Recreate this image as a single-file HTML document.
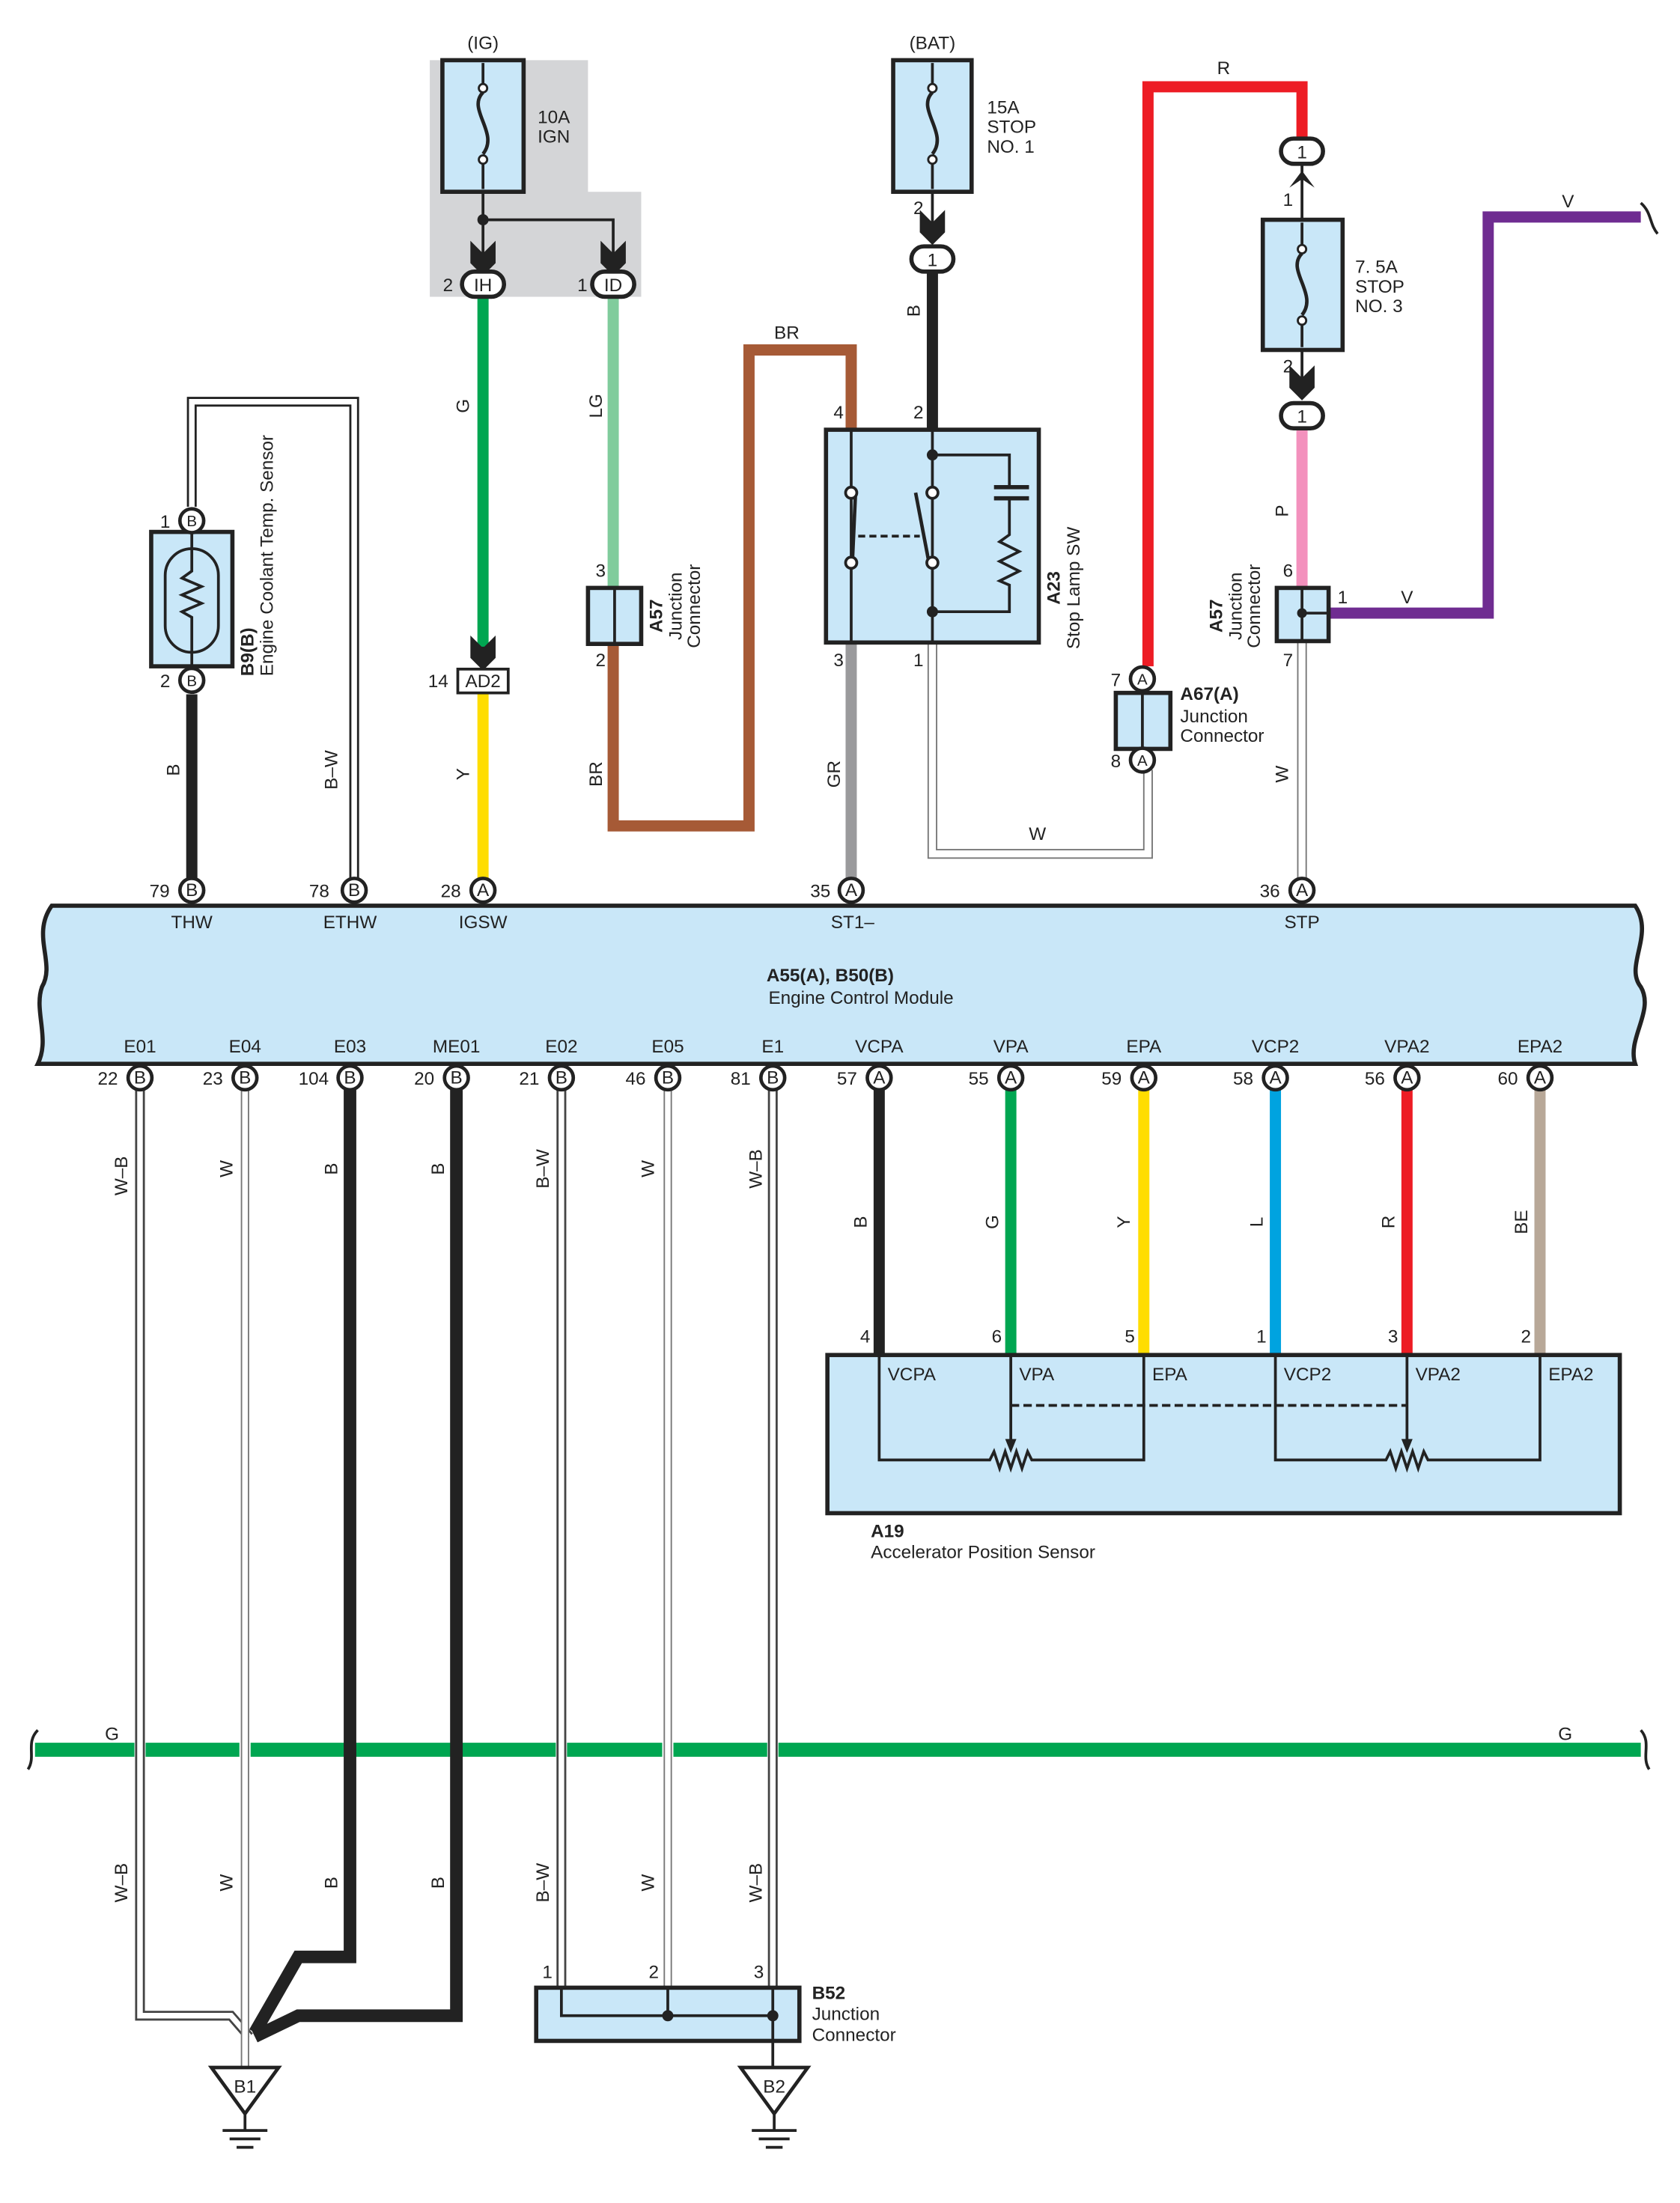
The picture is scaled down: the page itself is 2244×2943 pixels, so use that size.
<!DOCTYPE html>
<html><head><meta charset="utf-8"><style>
html,body{margin:0;padding:0;background:#fff}
svg{display:block}
text{font-family:"Liberation Sans",sans-serif;font-size:13px;fill:#222}
.c{text-anchor:middle}
.b{font-weight:bold}
</style></head><body>
<svg width="2244" height="2943" viewBox="0 0 1200 1573.8" xmlns="http://www.w3.org/2000/svg">
<defs>
<g id="chev"><path d="M-9,-14 L0,-5 L9,-14 L9,-6 L0,3 L-9,-6Z M-9,-6 L0,3 L9,-6 L9,2 L0,11 L-9,2Z" fill="#222"/></g>
</defs>
<path d="M307,43 H420 V137 H458 V212 H307Z" fill="#d4d5d7"/>
<text x="345" y="35" class="c">(IG)</text>
<rect x="316" y="43" width="58" height="94" fill="#c9e7f8" stroke="#222" stroke-width="3"/>
<path d="M345,45 V60 M345,117 V135" stroke="#222" stroke-width="2"/>
<path d="M345,66 C333,78 357,95 345,110" fill="none" stroke="#222" stroke-width="2.5"/>
<circle cx="345" cy="63" r="3" fill="#fff" stroke="#222" stroke-width="1.5"/><circle cx="345" cy="114" r="3" fill="#fff" stroke="#222" stroke-width="1.5"/>
<text x="384" y="88">10A</text><text x="384" y="102">IGN</text>
<path d="M345,137 V185 M345,157 H438 V185" stroke="#222" stroke-width="2" fill="none"/>
<circle cx="345" cy="157" r="4" fill="#222"/>
<use href="#chev" x="345" y="186"/><use href="#chev" x="438" y="186"/>
<path d="M345,212 V462" stroke="#00a651" stroke-width="8"/>
<path d="M345,462 V476" stroke="#222" stroke-width="2"/>
<use href="#chev" x="345" y="468"/>
<path d="M345,494 V628" stroke="#ffdd00" stroke-width="8"/>
<path d="M438,212 V420" stroke="#80cc9c" stroke-width="8"/>
<path d="M438,460 V590 H535 V250 H608 V307" stroke="#a65a36" stroke-width="8" fill="none"/>
<path d="M666,195 V307" stroke="#222" stroke-width="8"/>
<path d="M608,460 V628" stroke="#9a9a9c" stroke-width="8"/>
<path d="M666,460 V610 H820 V550" stroke="#777" stroke-width="7" fill="none"/>
<path d="M666,460 V610 H820 V550" stroke="#fff" stroke-width="5" fill="none"/>
<path d="M820,476 V62 H930 V98" stroke="#ed1c24" stroke-width="8" fill="none"/>
<path d="M930,307 V420" stroke="#f391bd" stroke-width="8"/>
<path d="M949,438 H1063 V155 H1172" stroke="#6f2c91" stroke-width="8" fill="none"/>
<path d="M1172,145 C1180,152 1178,160 1184,167" stroke="#222" stroke-width="2" fill="none"/>
<path d="M930,458 V628" stroke="#777" stroke-width="7"/><path d="M930,458 V628" stroke="#fff" stroke-width="5"/>
<path d="M137,496 V628" stroke="#222" stroke-width="8"/>
<path d="M137,362 V287 H253 V628" stroke="#222" stroke-width="7" fill="none"/>
<path d="M137,362 V287 H253 V628" stroke="#fff" stroke-width="4" fill="none"/>
<rect x="330" y="194" width="30" height="18" rx="9" fill="#fff" stroke="#222" stroke-width="3"/><text x="345" y="208" class="c">IH</text>
<rect x="423" y="194" width="30" height="18" rx="9" fill="#fff" stroke="#222" stroke-width="3"/><text x="438" y="208" class="c">ID</text>
<text x="320" y="208" class="c">2</text><text x="416" y="208" class="c">1</text>
<text transform="rotate(-90 335 290)" x="335" y="290" class="c">G</text>
<text transform="rotate(-90 430 290)" x="430" y="290" class="c">LG</text>
<rect x="327" y="478" width="36" height="17" fill="#fff" stroke="#222" stroke-width="2"/><text x="345" y="491" class="c">AD2</text>
<text x="313" y="491" class="c">14</text>
<text transform="rotate(-90 335 553)" x="335" y="553" class="c">Y</text>
<rect x="420" y="420" width="38" height="40" fill="#c9e7f8" stroke="#222" stroke-width="3"/><path d="M439,420 V460" stroke="#222" stroke-width="2"/>
<text x="429" y="412" class="c">3</text><text x="429" y="476" class="c">2</text>
<text transform="rotate(-90 473 440)" x="473" y="440" class="c b">A57</text>
<text transform="rotate(-90 487 433)" x="487" y="433" class="c">Junction</text>
<text transform="rotate(-90 500 433)" x="500" y="433" class="c">Connector</text>
<text x="562" y="242" class="c">BR</text>
<text transform="rotate(-90 430 553)" x="430" y="553" class="c">BR</text>
<text x="666" y="35" class="c">(BAT)</text>
<rect x="638" y="43" width="56" height="94" fill="#c9e7f8" stroke="#222" stroke-width="3"/>
<path d="M666,45 V60 M666,117 V135" stroke="#222" stroke-width="2"/>
<path d="M666,66 C654,78 678,95 666,110" fill="none" stroke="#222" stroke-width="2.5"/>
<circle cx="666" cy="63" r="3" fill="#fff" stroke="#222" stroke-width="1.5"/><circle cx="666" cy="114" r="3" fill="#fff" stroke="#222" stroke-width="1.5"/>
<text x="705" y="81">15A</text><text x="705" y="95">STOP</text><text x="705" y="109">NO. 1</text>
<path d="M666,137 V170" stroke="#222" stroke-width="2"/><use href="#chev" x="666" y="164"/>
<text x="656" y="153" class="c">2</text>
<rect x="651" y="176" width="30" height="18" rx="9" fill="#fff" stroke="#222" stroke-width="3"/><text x="666" y="190" class="c">1</text>
<text transform="rotate(-90 657 222)" x="657" y="222" class="c">B</text>
<text x="599" y="299" class="c">4</text><text x="656" y="299" class="c">2</text>
<rect x="590" y="307" width="152" height="152" fill="#c9e7f8" stroke="#222" stroke-width="3"/>
<g stroke="#222" stroke-width="2" fill="none">
<path d="M608,307 V398 M608,406 V459 M666,307 V398 M666,406 V459"/>
<path d="M666,325 H721 V347 M721,356 V382 L714,387 L728,394 L714,401 L728,408 L714,415 L721,418 V437 H666"/>
<path d="M710,348 H735 M710,356 H735" stroke-width="3"/>
<path d="M609,398 L611,354" stroke-width="2.5"/>
<path d="M654,352 L663,399" stroke-width="2.5"/>
<path d="M613,383 H657" stroke-dasharray="5,3"/>
</g>
<g fill="#fff" stroke="#222" stroke-width="2"><circle cx="608" cy="352" r="4"/><circle cx="608" cy="402" r="4"/><circle cx="666" cy="352" r="4"/><circle cx="666" cy="402" r="4"/></g>
<circle cx="666" cy="325" r="4" fill="#222"/><circle cx="666" cy="437" r="4" fill="#222"/>
<text x="599" y="476" class="c">3</text><text x="656" y="476" class="c">1</text>
<text transform="rotate(-90 757 420)" x="757" y="420" class="c b">A23</text>
<text transform="rotate(-90 771 420)" x="771" y="420" class="c">Stop Lamp SW</text>
<text transform="rotate(-90 600 553)" x="600" y="553" class="c">GR</text>
<text x="741" y="600" class="c">W</text>
<text x="874" y="53" class="c">R</text>
<rect x="915" y="99" width="30" height="18" rx="9" fill="#fff" stroke="#222" stroke-width="3"/><text x="930" y="113" class="c">1</text>
<path d="M930,117 V157" stroke="#222" stroke-width="2"/>
<path d="M921,134 L930,122 L939,134 L930,128Z" fill="#222"/>
<text x="920" y="147" class="c">1</text>
<rect x="902" y="157" width="57" height="93" fill="#c9e7f8" stroke="#222" stroke-width="3"/>
<path d="M930,159 V175 M930,232 V248" stroke="#222" stroke-width="2"/>
<path d="M930,181 C918,193 942,210 930,225" fill="none" stroke="#222" stroke-width="2.5"/>
<circle cx="930" cy="178" r="3" fill="#fff" stroke="#222" stroke-width="1.5"/><circle cx="930" cy="229" r="3" fill="#fff" stroke="#222" stroke-width="1.5"/>
<text x="968" y="195">7. 5A</text><text x="968" y="209">STOP</text><text x="968" y="223">NO. 3</text>
<path d="M930,250 V280" stroke="#222" stroke-width="2"/><use href="#chev" x="930" y="275"/>
<text x="920" y="266" class="c">2</text>
<rect x="915" y="288" width="30" height="18" rx="9" fill="#fff" stroke="#222" stroke-width="3"/><text x="930" y="302" class="c">1</text>
<text transform="rotate(-90 920 365)" x="920" y="365" class="c">P</text>
<rect x="912" y="420" width="37" height="38" fill="#c9e7f8" stroke="#222" stroke-width="3"/>
<path d="M930,420 V458 M930,438 H949" stroke="#222" stroke-width="2"/><circle cx="930" cy="438" r="3.5" fill="#222"/>
<text x="920" y="412" class="c">6</text><text x="920" y="476" class="c">7</text><text x="959" y="431" class="c">1</text>
<text x="1005" y="431" class="c">V</text><text x="1120" y="148" class="c">V</text>
<text transform="rotate(-90 873 440)" x="873" y="440" class="c b">A57</text>
<text transform="rotate(-90 887 433)" x="887" y="433" class="c">Junction</text>
<text transform="rotate(-90 900 433)" x="900" y="433" class="c">Connector</text>
<text transform="rotate(-90 920 553)" x="920" y="553" class="c">W</text>
<rect x="797" y="495" width="39" height="40" fill="#c9e7f8" stroke="#222" stroke-width="3"/><path d="M816,495 V535" stroke="#222" stroke-width="2"/>
<g fill="#fff" stroke="#222" stroke-width="2.5"><circle cx="816" cy="485" r="8.5"/><circle cx="816" cy="543" r="8.5"/></g>
<text x="816" y="489" class="c" style="font-size:11px">A</text><text x="816" y="547" class="c" style="font-size:11px">A</text>
<text x="797" y="490" class="c">7</text><text x="797" y="548" class="c">8</text>
<text x="843" y="500" class="b">A67(A)</text><text x="843" y="516">Junction</text><text x="843" y="530">Connector</text>
<rect x="108" y="380" width="58" height="96" fill="#c9e7f8" stroke="#222" stroke-width="3"/>
<rect x="118" y="392" width="38" height="74" rx="19" fill="none" stroke="#222" stroke-width="2"/>
<path d="M137,380 V408 L130,413 L144,419 L130,425 L144,431 L130,437 L137,441 V476" fill="none" stroke="#222" stroke-width="2"/>
<g fill="#fff" stroke="#222" stroke-width="2.5"><circle cx="137" cy="372" r="8.5"/><circle cx="137" cy="486" r="8.5"/></g>
<text x="137" y="376" class="c" style="font-size:11px">B</text><text x="137" y="490" class="c" style="font-size:11px">B</text>
<text x="118" y="377" class="c">1</text><text x="118" y="491" class="c">2</text>
<text transform="rotate(-90 181 483)" x="181" y="483" class="b">B9(B)</text>
<text transform="rotate(-90 195 483)" x="195" y="483">Engine Coolant Temp.  Sensor</text>
<text transform="rotate(-90 128 550)" x="128" y="550" class="c">B</text>
<text transform="rotate(-90 241 550)" x="241" y="550" class="c">B–W</text>
<path d="M37,647 H1168 C1182,668 1160,690 1172,705 C1182,722 1162,742 1168,760 H27 C36,742 24,722 30,705 C40,688 22,668 37,647Z" fill="#c9e7f8" stroke="#222" stroke-width="3"/>
<text x="593" y="701" class="c b">A55(A), B50(B)</text>
<text x="615" y="717" class="c">Engine Control Module</text>
<g fill="#fff" stroke="#222" stroke-width="2.5">
<circle cx="137" cy="636" r="8.5"/><circle cx="253" cy="636" r="8.5"/><circle cx="345" cy="636" r="8.5"/><circle cx="608" cy="636" r="8.5"/><circle cx="930" cy="636" r="8.5"/>
</g>
<g style="font-size:11px" text-anchor="middle">
<text x="137" y="640">B</text><text x="253" y="640">B</text><text x="345" y="640">A</text><text x="608" y="640">A</text><text x="930" y="640">A</text>
</g>
<text x="114" y="641" class="c">79</text><text x="228" y="641" class="c">78</text><text x="322" y="641" class="c">28</text><text x="586" y="641" class="c">35</text><text x="907" y="641" class="c">36</text>
<text x="137" y="663" class="c">THW</text><text x="250" y="663" class="c">ETHW</text><text x="345" y="663" class="c">IGSW</text><text x="609" y="663" class="c">ST1–</text><text x="930" y="663" class="c">STP</text>
<g text-anchor="middle">
<text x="100" y="752">E01</text><text x="175" y="752">E04</text><text x="250" y="752">E03</text><text x="326" y="752">ME01</text><text x="401" y="752">E02</text><text x="477" y="752">E05</text><text x="552" y="752">E1</text><text x="628" y="752">VCPA</text><text x="722" y="752">VPA</text><text x="817" y="752">EPA</text><text x="911" y="752">VCP2</text><text x="1005" y="752">VPA2</text><text x="1100" y="752">EPA2</text>
</g>
<path d="M628,778 V968" stroke="#222" stroke-width="8"/>
<path d="M722,778 V968" stroke="#00a651" stroke-width="8"/>
<path d="M817,778 V968" stroke="#ffdd00" stroke-width="8"/>
<path d="M911,778 V968" stroke="#00a3e0" stroke-width="8"/>
<path d="M1005,778 V968" stroke="#ed1c24" stroke-width="8"/>
<path d="M1100,778 V968" stroke="#b8a898" stroke-width="8"/>
<path d="M25,1250 H1172" stroke="#00a651" stroke-width="10"/>
<path d="M27,1236 C18,1245 26,1255 20,1264 M1172,1236 C1180,1245 1172,1255 1178,1264" stroke="#222" stroke-width="2" fill="none"/>
<text x="80" y="1243" class="c">G</text><text x="1118" y="1243" class="c">G</text>
<g stroke="#fff" stroke-width="8">
<path d="M100,1243 V1257 M175,1243 V1257 M250,1243 V1257 M326,1243 V1257 M401,1243 V1257 M477,1243 V1257 M552,1243 V1257"/>
</g>
<path d="M100,778 V1440 H165 L178,1455" stroke="#444" stroke-width="7" fill="none"/>
<path d="M100,778 V1440 H165 L178,1455" stroke="#fff" stroke-width="4" fill="none"/>
<path d="M175,778 V1478" stroke="#777" stroke-width="6"/><path d="M175,778 V1478" stroke="#fff" stroke-width="4"/>
<path d="M250,778 V1398 H213 L182,1452" stroke="#222" stroke-width="9" fill="none"/>
<path d="M326,778 V1440 H213 L182,1455" stroke="#222" stroke-width="9" fill="none"/>
<path d="M401,778 V1420" stroke="#444" stroke-width="7"/><path d="M401,778 V1420" stroke="#fff" stroke-width="4"/>
<path d="M477,778 V1420" stroke="#777" stroke-width="6"/><path d="M477,778 V1420" stroke="#fff" stroke-width="4"/>
<path d="M552,778 V1420" stroke="#444" stroke-width="7"/><path d="M552,778 V1420" stroke="#fff" stroke-width="4"/>
<g fill="#fff" stroke="#222" stroke-width="2.5">
<circle cx="100" cy="770" r="8.5"/><circle cx="175" cy="770" r="8.5"/><circle cx="250" cy="770" r="8.5"/><circle cx="326" cy="770" r="8.5"/><circle cx="401" cy="770" r="8.5"/><circle cx="477" cy="770" r="8.5"/><circle cx="552" cy="770" r="8.5"/><circle cx="628" cy="770" r="8.5"/><circle cx="722" cy="770" r="8.5"/><circle cx="817" cy="770" r="8.5"/><circle cx="911" cy="770" r="8.5"/><circle cx="1005" cy="770" r="8.5"/><circle cx="1100" cy="770" r="8.5"/>
</g>
<g style="font-size:11px" text-anchor="middle">
<text x="100" y="774">B</text><text x="175" y="774">B</text><text x="250" y="774">B</text><text x="326" y="774">B</text><text x="401" y="774">B</text><text x="477" y="774">B</text><text x="552" y="774">B</text><text x="628" y="774">A</text><text x="722" y="774">A</text><text x="817" y="774">A</text><text x="911" y="774">A</text><text x="1005" y="774">A</text><text x="1100" y="774">A</text>
</g>
<g text-anchor="middle">
<text x="77" y="775">22</text><text x="152" y="775">23</text><text x="224" y="775">104</text><text x="303" y="775">20</text><text x="378" y="775">21</text><text x="454" y="775">46</text><text x="529" y="775">81</text><text x="605" y="775">57</text><text x="699" y="775">55</text><text x="794" y="775">59</text><text x="888" y="775">58</text><text x="982" y="775">56</text><text x="1077" y="775">60</text>
</g>
<g text-anchor="middle">
<text transform="rotate(-90 91 840)" x="91" y="840">W–B</text><text transform="rotate(-90 166 835)" x="166" y="835">W</text><text transform="rotate(-90 241 835)" x="241" y="835">B</text><text transform="rotate(-90 317 835)" x="317" y="835">B</text><text transform="rotate(-90 392 835)" x="392" y="835">B–W</text><text transform="rotate(-90 467 835)" x="467" y="835">W</text><text transform="rotate(-90 544 835)" x="544" y="835">W–B</text>
<text transform="rotate(-90 91 1345)" x="91" y="1345">W–B</text><text transform="rotate(-90 166 1345)" x="166" y="1345">W</text><text transform="rotate(-90 241 1345)" x="241" y="1345">B</text><text transform="rotate(-90 317 1345)" x="317" y="1345">B</text><text transform="rotate(-90 392 1345)" x="392" y="1345">B–W</text><text transform="rotate(-90 467 1345)" x="467" y="1345">W</text><text transform="rotate(-90 544 1345)" x="544" y="1345">W–B</text>
<text transform="rotate(-90 619 873)" x="619" y="873">B</text><text transform="rotate(-90 713 873)" x="713" y="873">G</text><text transform="rotate(-90 807 873)" x="807" y="873">Y</text><text transform="rotate(-90 902 873)" x="902" y="873">L</text><text transform="rotate(-90 996 873)" x="996" y="873">R</text><text transform="rotate(-90 1091 873)" x="1091" y="873">BE</text>
<text x="618" y="959">4</text><text x="712" y="959">6</text><text x="807" y="959">5</text><text x="901" y="959">1</text><text x="995" y="959">3</text><text x="1090" y="959">2</text>
</g>
<rect x="591" y="968" width="566" height="113" fill="#c9e7f8" stroke="#222" stroke-width="3"/>
<g stroke="#222" stroke-width="2" fill="none">
<path d="M628,968 V1043 H707 L710,1037 L714,1049 L718,1037 L722,1049 L726,1037 L730,1049 L734,1037 L737,1043 H817 V968"/>
<path d="M911,968 V1043 H990 L993,1037 L997,1049 L1001,1037 L1005,1049 L1009,1037 L1013,1049 L1017,1037 L1020,1043 H1100 V968"/>
<path d="M722,968 V1030 M1005,968 V1030"/>
<path d="M722,1004 H1005" stroke-dasharray="6,3"/>
</g>
<path d="M718,1028 L722,1038 L726,1028Z M1001,1028 L1005,1038 L1009,1028Z" fill="#222"/>
<text x="634" y="986">VCPA</text><text x="728" y="986">VPA</text><text x="823" y="986">EPA</text><text x="917" y="986">VCP2</text><text x="1011" y="986">VPA2</text><text x="1106" y="986">EPA2</text>
<text x="622" y="1098" class="b">A19</text><text x="622" y="1113">Accelerator Position Sensor</text>
<rect x="383" y="1420" width="188" height="38" fill="#c9e7f8" stroke="#222" stroke-width="3"/>
<path d="M401,1420 V1440 H555 M477,1420 V1440 M552,1420 V1478" stroke="#222" stroke-width="2" fill="none"/>
<circle cx="477" cy="1440" r="4" fill="#222"/><circle cx="552" cy="1440" r="4" fill="#222"/>
<text x="391" y="1413" class="c">1</text><text x="467" y="1413" class="c">2</text><text x="542" y="1413" class="c">3</text>
<text x="580" y="1428" class="b">B52</text><text x="580" y="1443">Junction</text><text x="580" y="1458">Connector</text>
<g stroke="#222" stroke-width="2.5" fill="#fff">
<path d="M151,1477 H199 L175,1510Z"/><path d="M529,1477 H577 L553,1510Z"/>
</g>
<g stroke="#222" stroke-width="2"><path d="M175,1510 V1522 M159,1522 H191 M164,1528 H186 M169,1534 H181"/><path d="M553,1510 V1522 M537,1522 H569 M542,1528 H564 M547,1534 H559"/></g>
<text x="175" y="1495" class="c">B1</text><text x="553" y="1495" class="c">B2</text>
</svg>
</body></html>
